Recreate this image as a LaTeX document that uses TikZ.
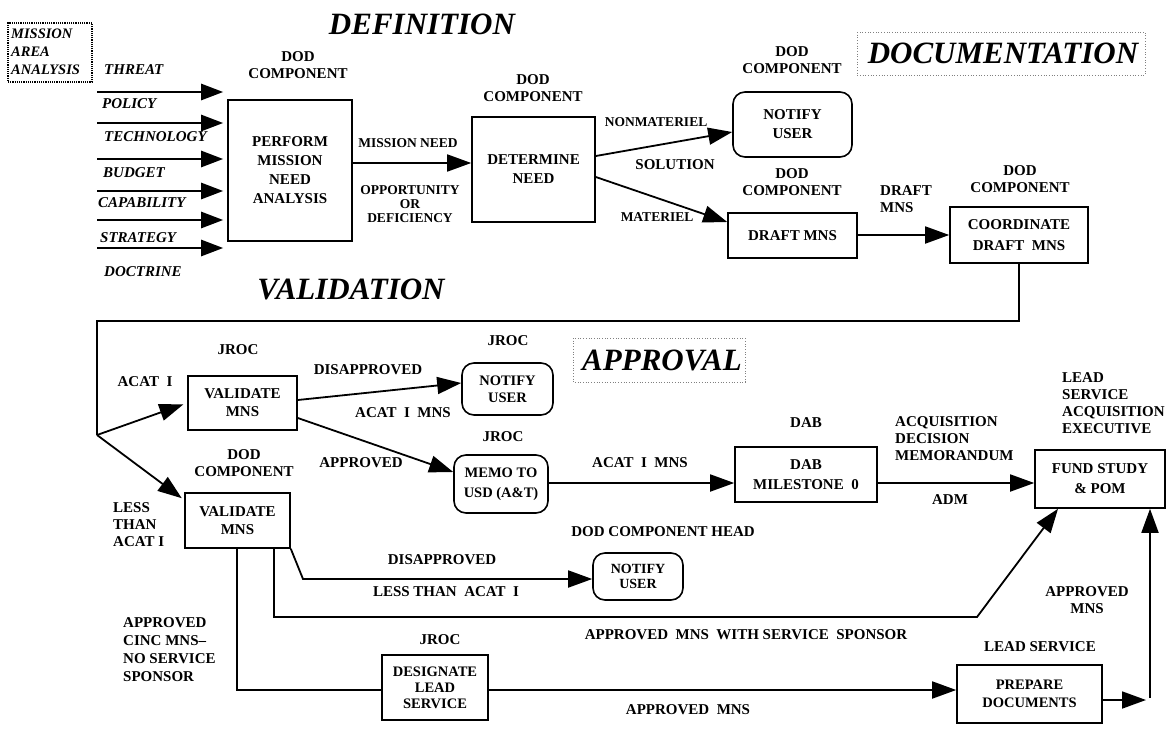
\documentclass[tikz,border=0pt]{standalone}
\usepackage{fontspec}
\setmainfont{Liberation Serif}
\usetikzlibrary{arrows.meta}
\begin{document}
\begin{tikzpicture}[x=1pt,y=-1pt,
  box/.style={draw, line width=1.6pt, align=center, inner sep=0pt, font=\bfseries\fontsize{15}{19}\selectfont},
  rbox/.style={box, rounded corners=12pt},
  lbl/.style={align=center, inner sep=0pt, font=\bfseries\fontsize{15}{17}\selectfont},
  slbl/.style={align=center, inner sep=0pt, font=\bfseries\fontsize{13.5}{14}\selectfont},
  llbl/.style={lbl, anchor=west, align=left},
  ilbl/.style={anchor=west, inner sep=0pt, font=\bfseries\itshape\fontsize{15}{17}\selectfont},
  ttl/.style={inner sep=0pt, font=\bfseries\itshape\fontsize{31}{31}\selectfont},
  dotfr/.style={gray, dotted, line width=0.7pt},
  conn/.style={line width=1.8pt},
  arr/.style={conn, -{Triangle[length=24pt,width=17pt]}},
  inarr/.style={line width=2.6pt, -{Triangle[length=22pt,width=16pt]}, shorten >=4pt}
]
\useasboundingbox (0,0) rectangle (1172,728);

% ---- titles ----
\node[ttl] (tdef) at (422,24) {DEFINITION};
\node[ttl] (tdoc) at (1003,53) {DOCUMENTATION};
\node[ttl] (tval) at (351,289) {VALIDATION};
\node[ttl] (tapp) at (662,360) {APPROVAL};
\draw[dotfr] (857,32) rectangle (1145,75);
\draw[dotfr] (573,338) rectangle (745,382);

% ---- mission area analysis ----
\node[draw, densely dotted, line width=1.2pt, minimum width=84pt, minimum height=59pt, inner sep=0pt] (maa) at (50,52.5) {};
\node[anchor=west, align=left, inner sep=0pt, font=\bfseries\itshape\fontsize{14.5}{18}\selectfont] (maat) at (11,51.5) {MISSION\\AREA\\ANALYSIS};

% ---- inputs ----
\node[ilbl] (i1) at (104,70) {THREAT};
\node[ilbl] (i2) at (102,104) {POLICY};
\node[ilbl] (i3) at (104,137) {TECHNOLOGY};
\node[ilbl] (i4) at (103,173) {BUDGET};
\node[ilbl] (i5) at (98,203) {CAPABILITY};
\node[ilbl] (i6) at (100,238) {STRATEGY};
\node[ilbl] (i7) at (104,272) {DOCTRINE};

% ---- boxes ----
\node[box, minimum width=124pt, minimum height=141pt] (pmna) at (290,170.5) {PERFORM\\MISSION\\NEED\\ANALYSIS};
\node[box, minimum width=123pt, minimum height=105pt] (det) at (533.5,169.5) {DETERMINE\\NEED};
\node[rbox, minimum width=119pt, minimum height=65pt] (notify1) at (792.5,124.5) {NOTIFY\\USER};
\node[box, minimum width=129pt, minimum height=45pt] (draft) at (792.5,235.5) {DRAFT MNS};
\node[box, minimum width=138pt, minimum height=56pt, font=\bfseries\fontsize{15}{21}\selectfont] (coord) at (1019,235) {COORDINATE\\DRAFT\ \ MNS};
\node[box, minimum width=109pt, minimum height=54pt, font=\bfseries\fontsize{15}{18}\selectfont] (jval) at (242.5,403) {VALIDATE\\MNS};
\node[rbox, minimum width=91pt, minimum height=52pt, font=\bfseries\fontsize{14.5}{17}\selectfont] (notify2) at (507.5,389) {NOTIFY\\USER};
\node[rbox, minimum width=94pt, minimum height=58pt, font=\bfseries\fontsize{14.5}{20}\selectfont] (memo) at (501,484) {MEMO TO\\USD (A\&T)};
\node[box, minimum width=142pt, minimum height=55pt, font=\bfseries\fontsize{15}{20}\selectfont] (dab) at (806,474.5) {DAB\\MILESTONE\ \ 0};
\node[box, minimum width=130pt, minimum height=58pt, font=\bfseries\fontsize{15}{20}\selectfont] (fund) at (1100,479) {FUND STUDY\\\& POM};
\node[box, minimum width=105pt, minimum height=55pt, font=\bfseries\fontsize{15}{18}\selectfont] (dval) at (237.5,520.5) {VALIDATE\\MNS};
\node[rbox, minimum width=90pt, minimum height=47pt, font=\bfseries\fontsize{14}{15.5}\selectfont] (notify3) at (638,576.5) {NOTIFY\\USER};
\node[box, minimum width=106pt, minimum height=65pt, font=\bfseries\fontsize{14.5}{16}\selectfont] (desig) at (435,687.5) {DESIGNATE\\LEAD\\SERVICE};
\node[box, minimum width=145pt, minimum height=58pt, font=\bfseries\fontsize{14.5}{18}\selectfont] (prep) at (1029.5,694) {PREPARE\\DOCUMENTS};

% ---- labels ----
\node[lbl] (c1) at (298,65) {DOD\\COMPONENT};
\node[lbl] (c2) at (533,88.5) {DOD\\COMPONENT};
\node[lbl] (c3) at (792,60.5) {DOD\\COMPONENT};
\node[lbl] (c4) at (792,182) {DOD\\COMPONENT};
\node[lbl] (c5) at (1020,179) {DOD\\COMPONENT};
\node[slbl] (mn) at (408,143) {MISSION NEED};
\node[slbl] (od) at (410,204) {OPPORTUNITY\\OR\\DEFICIENCY};
\node[slbl] (nm) at (656,122) {NONMATERIEL};
\node[lbl] (so) at (675,165) {SOLUTION};
\node[slbl] (ma) at (657,217) {MATERIEL};
\node[llbl] (dm) at (880,199.5) {DRAFT\\MNS};

\node[lbl] (j1) at (238,350) {JROC};
\node[lbl] (a1) at (145,382) {ACAT\ \ I};
\node[lbl] (d1) at (368,370) {DISAPPROVED};
\node[lbl] (a2) at (403,413) {ACAT\ \ I\ \ MNS};
\node[lbl] (ap1) at (361,463) {APPROVED};
\node[lbl] (c6) at (244,463.5) {DOD\\COMPONENT};
\node[llbl] (lt) at (113,525) {LESS\\THAN\\ACAT I};
\node[lbl] (j2) at (508,341) {JROC};
\node[lbl] (j3) at (503,437) {JROC};
\node[lbl] (a3) at (640,463) {ACAT\ \ I\ \ MNS};
\node[lbl] (db) at (806,423) {DAB};
\node[llbl] (adm) at (895,438.5) {ACQUISITION\\DECISION\\MEMORANDUM};
\node[lbl] (ad) at (950,500) {ADM};
\node[llbl] (lsae) at (1062,403) {LEAD\\SERVICE\\ACQUISITION\\EXECUTIVE};
\node[lbl] (dch) at (663,532) {DOD COMPONENT HEAD};
\node[lbl] (d2) at (442,560) {DISAPPROVED};
\node[lbl] (lta) at (446,592) {LESS THAN\ \ ACAT\ \ I};
\node[lbl] (amss) at (746,635) {APPROVED\ \ MNS\ \ WITH\ SERVICE\ \ SPONSOR};
\node[lbl] (am1) at (1087,600) {APPROVED\\MNS};
\node[lbl] (ls) at (1040,647) {LEAD SERVICE};
\node[lbl] (j4) at (440,640) {JROC};
\node[llbl, font=\bfseries\fontsize{15}{18}\selectfont] (acinc) at (123,650) {APPROVED\\CINC MNS--\\NO SERVICE\\SPONSOR};
\node[lbl] (am2) at (688,710) {APPROVED\ \ MNS};

% ---- input arrows ----
\foreach \yy [count=\k] in {92,123,159,191,220,248}{
  \coordinate (s\k) at (97,\yy);
  \draw[inarr] (s\k) -- (s\k -| pmna.west);
}

% ---- connectors ----
\draw[arr] (pmna.east |- 0,163) -- (det.west |- 0,163);
\draw[arr] (det.east |- 0,156) -- (notify1.west |- 0,132);
\draw[arr] (det.east |- 0,177) -- (draft.west |- 0,222);
\draw[arr] (draft.east |- 0,235) -- (coord.west |- 0,235);

\coordinate (br) at (97,435);
\draw[conn, line join=miter] (coord.south) -- ++(0,57) -| (br);
\draw[arr, shorten >=4pt] (br) -- (jval.west |- 0,403);
\draw[arr, shorten >=3pt] (br) -- (dval.west |- 0,500);

\draw[arr] (jval.east |- 0,400) -- (notify2.west |- 0,383);
\draw[arr] (jval.east |- 0,418) -- (memo.west |- 0,472);
\draw[arr] (memo.east |- 0,483) -- (dab.west |- 0,483);
\draw[arr] (dab.east |- 0,483) -- (fund.west |- 0,483);

\coordinate (k1) at (303,579);
\draw[arr, line join=miter] (dval.south east) -- (k1) -- (notify3.west |- k1);
\coordinate (k2) at (977,617);
\draw[arr, line join=miter] (dval.south -| 274,0) |- (k2) -- (fund.south -| 1058,0);
\draw[conn, line join=miter] (dval.south -| 237,0) |- (desig.west |- 0,690);
\draw[arr] (desig.east |- 0,690) -- (prep.west |- 0,690);
\coordinate (k3) at (1146,700);
\coordinate (k4) at (1150,698);
\draw[arr] (prep.east |- k3) -- (k3);
\draw[arr] (k4) -- (fund.south -| k4);
\end{tikzpicture}
\end{document}
